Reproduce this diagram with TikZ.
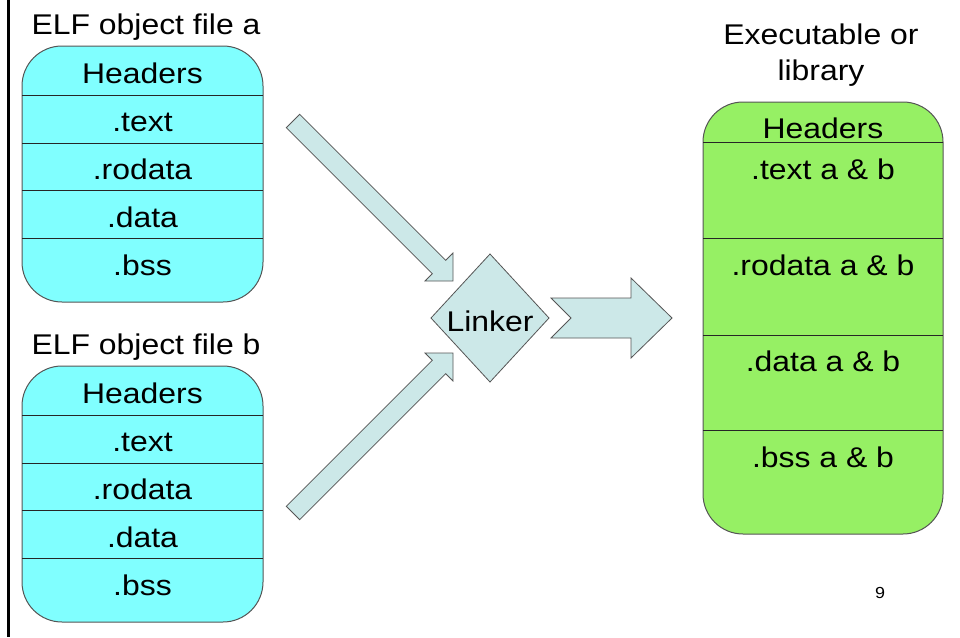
\documentclass[tikz,border=0pt]{standalone}
\usepackage{fontspec}
\setmainfont{Liberation Sans}[FakeStretch=1.12]
\usetikzlibrary{shapes.geometric}
\definecolor{cyanfill}{RGB}{128,255,255}
\definecolor{greenfill}{RGB}{150,240,100}
\definecolor{arrowfill}{RGB}{204,232,232}
\definecolor{edgecol}{RGB}{85,85,85}
\begin{document}
\begin{tikzpicture}[x=1pt,y=-1pt,
  lbl/.style={anchor=base, inner sep=0pt, outer sep=0pt, font=\fontsize{28.5}{34}\selectfont},
  small/.style={anchor=base, inner sep=0pt, outer sep=0pt, font=\fontsize{16}{18}\selectfont},
  secbox/.style={rectangle, rounded corners=40pt, draw=edgecol, line width=1pt, inner sep=0pt, outer sep=0pt},
  divider/.style={draw=black!85, line width=1pt},
  blockarrow/.style={draw=edgecol, line width=0.8pt, fill=arrowfill, line join=miter}]
\useasboundingbox (0,0) rectangle (960,637);
\fill[white] (0,0) rectangle (960,637);
\draw[line width=3pt] (8,0) -- (8,637);

% object file a
\node[lbl] (ta) at (146,34) {ELF object file a};
\node[secbox, fill=cyanfill, minimum width=241pt, minimum height=256pt] (boxa) at (142.5,174) {};
\foreach \yy in {95,143,190,238} \draw[divider] (boxa.west |- 0,\yy) -- (boxa.east |- 0,\yy);
\node[lbl] (ah) at (142.5,83) {Headers};
\node[lbl] (at) at (142.5,131) {.text};
\node[lbl] (ar) at (142.5,179) {.rodata};
\node[lbl] (ad) at (142.5,227) {.data};
\node[lbl] (ab) at (142.5,275) {.bss};

% object file b
\node[lbl] (tb) at (146,354) {ELF object file b};
\node[secbox, fill=cyanfill, minimum width=241pt, minimum height=256pt] (boxb) at (142.5,494) {};
\foreach \yy in {415,463,510,558} \draw[divider] (boxb.west |- 0,\yy) -- (boxb.east |- 0,\yy);
\node[lbl] (bh) at (142.5,403) {Headers};
\node[lbl] (bt) at (142.5,451) {.text};
\node[lbl] (br) at (142.5,499) {.rodata};
\node[lbl] (bd) at (142.5,547) {.data};
\node[lbl] (bb) at (142.5,595) {.bss};

% arrows into linker
\draw[blockarrow] (299.7,114.3) -- (445.7,260.3) -- (453,253) -- (453,281) -- (425,281) -- (432.3,273.7) -- (286.3,127.7) -- cycle;
\draw[blockarrow] (299.7,519.7) -- (445.7,373.7) -- (453,381) -- (453,353) -- (425,353) -- (432.3,360.3) -- (286.3,506.3) -- cycle;

% linker
\node[diamond, draw=edgecol, line width=0.8pt, fill=arrowfill, minimum width=118pt, minimum height=128pt, inner sep=0pt, outer sep=0pt] (linker) at (490,318) {};
\node[lbl] (lk) at (490,331) {Linker};

% arrow out
\draw[blockarrow] (551,298) -- (631,298) -- (631,278) -- (672,318) -- (631,358) -- (631,338) -- (551,338) -- (571,318) -- cycle;

% executable
\node[lbl] (te1) at (821,44) {Executable or};
\node[lbl] (te2) at (821,80) {library};
\node[secbox, fill=greenfill, minimum width=240pt, minimum height=432pt] (boxe) at (823,318) {};
\foreach \yy in {142,238,335,430} \draw[divider] (boxe.west |- 0,\yy) -- (boxe.east |- 0,\yy);
\node[lbl] (eh) at (823,138) {Headers};
\node[lbl] (et) at (823,179) {.text a \& b};
\node[lbl] (er) at (823,275) {.rodata a \& b};
\node[lbl] (ed) at (823,371) {.data a \& b};
\node[lbl] (eb) at (823,467) {.bss a \& b};

\node[small] (pg) at (880,598) {9};
\end{tikzpicture}
\end{document}
